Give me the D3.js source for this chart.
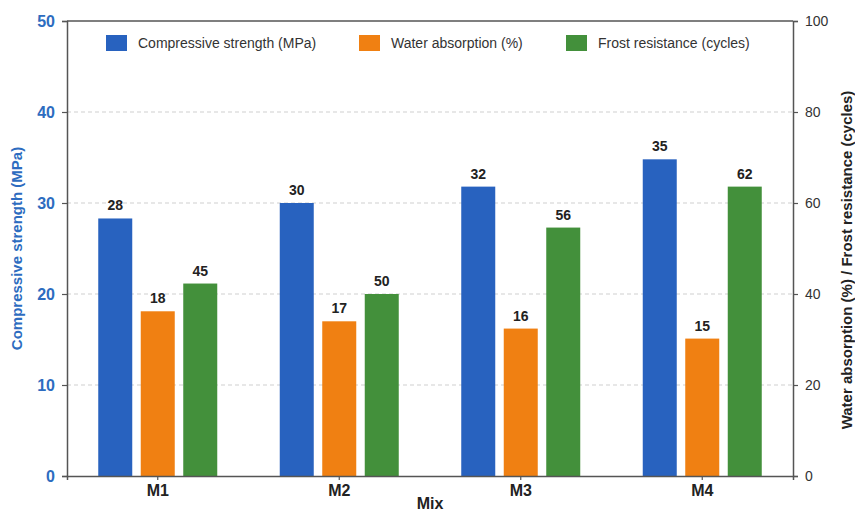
<!DOCTYPE html>
<html>
<head>
<meta charset="utf-8">
<script src="https://cdn.jsdelivr.net/npm/d3@7"></script>
<style>
  body { margin: 0; background: #fff; }
  svg { display: block; font-family: "Liberation Sans", Arial, sans-serif; }
</style>
</head>
<body>
<div id="chart"></div>
<script>
// data
const mixes = ["M1", "M2", "M3", "M4"];
const seriesNames = ["Compressive strength (MPa)", "Water absorption (%)", "Frost resistance (cycles)"];
// bar heights as drawn (compressive and water on left axis, frost on right axis)
const compressive = [28.3, 30.0, 31.8, 34.8];
const water = [18.1, 17.0, 16.2, 15.1];
const frost = [42.3, 40.0, 54.6, 63.6];
// value labels printed above the bars
const compressiveLabels = [28, 30, 32, 35];
const waterLabels = [18, 17, 16, 15];
const frostLabels = [45, 50, 56, 62];
const leftTicks = [0, 10, 20, 30, 40, 50];
const rightTicks = [0, 20, 40, 60, 80, 100];

const colors = ["#2862bf", "#f08012", "#43903b"];

const width = 855;
const height = 511;
const margin = { top: 21, right: 62, bottom: 35, left: 67 };
const graphWidth = width - margin.left - margin.right;
const graphHeight = height - margin.top - margin.bottom;

const svg = d3
  .select("#chart")
  .append("svg")
  .attr("width", width)
  .attr("height", height);

const g = svg.append("g").attr("transform", `translate(${margin.left},${margin.top})`);

const x = d3.scaleBand().domain(mixes).range([0, graphWidth]).padding(0);
const groupW = 119;
const xInner = d3
  .scaleBand()
  .domain(d3.range(3))
  .range([(x.bandwidth() - groupW) / 2, (x.bandwidth() + groupW) / 2])
  .paddingInner(0.2)
  .paddingOuter(0);

const yLeft = d3.scaleLinear().domain([0, 50]).range([graphHeight, 0]);
const yRight = d3.scaleLinear().domain([0, 100]).range([graphHeight, 0]);

// grid lines
g.append("g")
  .selectAll("line")
  .data(leftTicks.filter((t) => t > 0 && t < 50))
  .enter()
  .append("line")
  .attr("x1", 0)
  .attr("x2", graphWidth)
  .attr("y1", (d) => yLeft(d))
  .attr("y2", (d) => yLeft(d))
  .attr("stroke", "#cfcfcf")
  .attr("stroke-width", 1)
  .attr("stroke-dasharray", "4,3");

// bars
const series = [
  { vals: compressive, labels: compressiveLabels, y: yLeft },
  { vals: water, labels: waterLabels, y: yLeft },
  { vals: frost, labels: frostLabels, y: yRight },
];

series.forEach((s, si) => {
  const data = mixes.map((m, i) => ({ mix: m, v: s.vals[i], label: s.labels[i] }));
  g.selectAll(`.bar-${si}`)
    .data(data)
    .enter()
    .append("rect")
    .attr("class", `bar-${si}`)
    .attr("x", (d) => x(d.mix) + xInner(si))
    .attr("y", (d) => s.y(d.v))
    .attr("width", xInner.bandwidth())
    .attr("height", (d) => graphHeight - s.y(d.v))
    .attr("fill", colors[si]);

  g.selectAll(`.lbl-${si}`)
    .data(data)
    .enter()
    .append("text")
    .attr("class", `lbl-${si}`)
    .attr("x", (d) => x(d.mix) + xInner(si) + xInner.bandwidth() / 2)
    .attr("y", (d) => s.y(d.v) - 8)
    .attr("text-anchor", "middle")
    .attr("font-size", 14)
    .attr("font-weight", "bold")
    .attr("fill", "#222")
    .text((d) => d.label);
});

// frame top
g.append("line")
  .attr("x1", 0)
  .attr("x2", graphWidth)
  .attr("y1", 0)
  .attr("y2", 0)
  .attr("stroke", "#555")
  .attr("stroke-width", 1.5);

// axes
const axL = g.append("g").call(d3.axisLeft(yLeft).tickValues(leftTicks).tickSize(5).tickPadding(7));
axL.selectAll("text")
  .attr("fill", "#2d6cc0")
  .attr("font-size", 16)
  .attr("font-weight", "bold")
  .attr("font-family", "Liberation Sans, Arial, sans-serif");

const axR = g
  .append("g")
  .attr("transform", `translate(${graphWidth},0)`)
  .call(d3.axisRight(yRight).tickValues(rightTicks).tickSize(5).tickPadding(7));
axR.selectAll("text")
  .attr("fill", "#333")
  .attr("font-size", 14)
  .attr("font-family", "Liberation Sans, Arial, sans-serif");

const axB = g
  .append("g")
  .attr("transform", `translate(0,${graphHeight})`)
  .call(d3.axisBottom(x).tickSize(4).tickPadding(5));
axB.selectAll("text")
  .attr("fill", "#222")
  .attr("font-size", 16)
  .attr("font-weight", "bold")
  .attr("font-family", "Liberation Sans, Arial, sans-serif");

[axL, axR, axB].forEach((a) => {
  a.select(".domain").attr("stroke", "#555").attr("stroke-width", 1.5);
  a.selectAll(".tick line").attr("stroke", "#555").attr("stroke-width", 1.2);
});

// axis titles
svg.append("text")
  .attr("transform", `translate(22,${margin.top + graphHeight / 2}) rotate(-90)`)
  .attr("text-anchor", "middle")
  .attr("font-size", 15)
  .attr("font-weight", "bold")
  .attr("fill", "#2d6cc0")
  .text("Compressive strength (MPa)");

svg.append("text")
  .attr("transform", `translate(852,260) rotate(-90)`)
  .attr("text-anchor", "middle")
  .attr("font-size", 15)
  .attr("font-weight", "bold")
  .attr("fill", "#222")
  .text("Water absorption (%) / Frost resistance (cycles)");

svg.append("text")
  .attr("x", margin.left + graphWidth / 2)
  .attr("y", 509)
  .attr("text-anchor", "middle")
  .attr("font-size", 16)
  .attr("font-weight", "bold")
  .attr("fill", "#222")
  .text("Mix");

// legend
const legendX = [106, 359, 566];
const legend = svg.append("g");
seriesNames.forEach((name, i) => {
  legend.append("rect")
    .attr("x", legendX[i])
    .attr("y", 35)
    .attr("width", 21)
    .attr("height", 16)
    .attr("fill", colors[i]);
  legend.append("text")
    .attr("x", legendX[i] + 32)
    .attr("y", 48)
    .attr("font-size", 14)
    .attr("fill", "#333")
    .text(name);
});
</script>
</body>
</html>
